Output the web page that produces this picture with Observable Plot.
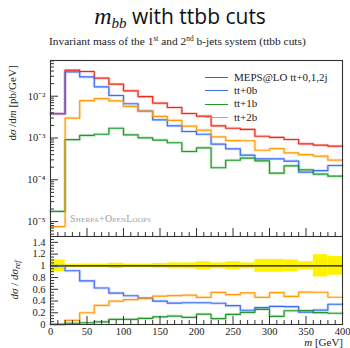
<!DOCTYPE html>
<html>
<head>
<meta charset="utf-8">
<script src="https://cdn.jsdelivr.net/npm/d3@7"></script>
<script src="https://cdn.jsdelivr.net/npm/@observablehq/plot@0.6"></script>
<style>
  body { margin: 0; background: #fff; }
  #chart { position: relative; width: 350px; height: 348px; overflow: hidden; font-family: "Liberation Serif", serif; color: #222; }
  #chart > div { position: absolute; }
  #title { left: 0; top: 6px; width: 360px; text-align: center; font: 21px/21px "Open Sans", sans-serif; white-space: nowrap; color: #111; }
  #title .m { font-family: "Liberation Serif", serif; font-style: italic; font-size: 24px; }
  #title sub { font-size: 15px; vertical-align: -4px; line-height: 0; }
  #subtitle { left: 49px; top: 35px; font-size: 11.4px; line-height: 12px; white-space: nowrap; }
  #subtitle sup { font-size: 7.5px; vertical-align: 4px; line-height: 0; }
  #main { left: 0; top: 52px; }
  #ratio { left: 0; top: 236px; }
  .vlab { font-size: 11px; white-space: nowrap; transform: rotate(-90deg); transform-origin: center center; text-align: center; }
  #ylab { left: -38px; top: 97px; width: 100px; }
  #rlab { left: -16px; top: 274px; width: 60px; }
  #ylab i, #rlab i, #xlab i { font-style: italic; }
  #rlab sub { font-size: 8px; vertical-align: -2px; line-height: 0; font-style: italic; }
  #xlab { right: 7px; top: 336px; font-size: 11px; white-space: nowrap; }
  #brand { left: 70px; top: 213px; font-size: 10px; font-variant: small-caps; color: #a0a0a0; letter-spacing: 0.2px; white-space: nowrap; }
  #legend { left: 205px; top: 71px; font-size: 11px; line-height: 13.2px; }
  #legend .row { display: flex; align-items: center; white-space: nowrap; }
  #legend .sw { display: inline-block; width: 23px; height: 0; border-top: 1.3px solid; margin-right: 6px; }
</style>
</head>
<body>
<div id="chart">
  <div id="title"><span class="m">m<sub>bb</sub></span> with ttbb cuts</div>
  <div id="subtitle">Invariant mass of the 1<sup>st</sup> and 2<sup>nd</sup> b-jets system (ttbb cuts)</div>
  <div id="main"></div>
  <div id="ratio"></div>
  <div id="ylab" class="vlab">d<i>σ</i> /d<i>m</i> [pb/GeV]</div>
  <div id="rlab" class="vlab"><i>dσ</i> / <i>dσ</i><sub>ref</sub></div>
  <div id="xlab"><i>m</i> [GeV]</div>
  <div id="brand">Sherpa+OpenLoops</div>
  <div id="legend"></div>
</div>
<script>
// Bin edges of the m_bb histogram [GeV]
const edges = [0, 20, 40, 60, 80, 100, 120, 140, 160, 180, 200, 220, 240, 260, 280, 300, 320, 340, 360, 380, 400];

// dσ/dm [pb/GeV] per bin
const mepsTotal = [3.8e-3, 0.0419, 0.039, 0.027, 0.0194, 0.01346, 0.0098, 0.0068, 0.00537, 0.00386,
                   0.00332, 0.00196, 0.00171, 0.00160, 0.00110, 0.00103, 0.00092, 0.000726, 0.000673, 0.000637];
const tt0b = [3.8e-3, 0.0384, 0.029, 0.0168, 0.0104, 0.0066, 0.0044, 0.00272, 0.00196, 0.00143,
              0.00123, 0.00071, 0.00055, 0.000388, 0.000318, 0.000318, 0.00028, 0.000152, 0.000165, 0.00022];
const tt1b = [1.75e-5, 0.00091, 0.00115, 0.00123, 0.00171, 0.00119, 0.00101, 0.00089, 0.00077, 0.000475,
              0.000583, 0.000194, 0.000294, 0.000329, 0.000285, 0.000144, 0.000216, 0.000173, 0.000136, 0.000122];
const tt2b = [7.6e-6, 0.00298, 0.0078, 0.0088, 0.0077, 0.0057, 0.0044, 0.0033, 0.00265, 0.00193,
              0.00154, 0.00107, 0.00087, 0.00086, 0.00051, 0.00056, 0.00044, 0.00040, 0.00037, 0.000296];

// Relative statistical uncertainty of the reference (MEPS@LO) per bin
const refRelErr = [0.1, 0.03, 0.03, 0.03, 0.045, 0.03, 0.03, 0.04, 0.05, 0.05,
                   0.07, 0.05, 0.07, 0.05, 0.11, 0.11, 0.1, 0.07, 0.19, 0.16];

const seriesNames = ["MEPS@LO tt+0,1,2j", "tt+0b", "tt+1b", "tt+2b"];
const seriesColors = ["#ee2a1b", "#3a6cf4", "#23992b", "#ff9a0a"];
const seriesValues = [mepsTotal, tt0b, tt1b, tt2b];
const ratioColors = ["#111111", "#3a6cf4", "#23992b", "#ff9a0a"];

const yMajor = [1e-5, 1e-4, 1e-3, 1e-2];
const ratioTicks = [0, 0.2, 0.4, 0.6, 0.8, 1, 1.2, 1.4];
const xTicks = [0, 50, 100, 150, 200, 250, 300, 350, 400];

const W = 350, ML = 50, MR = 8;
const panelW = W - ML - MR;
const mainH = 176, ratioH = 88;
const frameColor = "#333";
const font = {fontFamily: "Liberation Serif, serif", fontSize: "10.5px", color: "#222", background: "transparent"};

// Histogram outline as a polyline through the bin corners
function steps(vals, name) {
  const pts = [];
  vals.forEach((v, i) => {
    pts.push({x: edges[i], y: v, s: name});
    pts.push({x: edges[i + 1], y: v, s: name});
  });
  return pts;
}

const mainLines = seriesValues.map((v, k) => steps(v, seriesNames[k]));
const ratioLines = seriesValues.map((v, k) => steps(v.map((d, i) => d / mepsTotal[i]), seriesNames[k]));
const bandBins = refRelErr.map((e, i) => ({x1: edges[i], x2: edges[i + 1], lo: 1 - e, hi: 1 + e}));

// Minor/major tick positions
const logTicks = [];
for (let d = -6; d <= -1; d++) for (let k = 1; k <= 9; k++) {
  const v = k * Math.pow(10, d);
  if (v >= 4.4e-6 && v <= 0.0715) logTicks.push({v, major: k === 1});
}
const xMinor = d3.range(0, 401, 10).map(v => ({v, major: v % 50 === 0}));
const rMinor = d3.range(0, 1.5001, 0.05).map(v => ({v: +v.toFixed(2), major: Math.abs(v / 0.2 - Math.round(v / 0.2)) < 1e-6}));

const supMap = {"-": "\u207b", "0": "\u2070", "1": "\u00b9", "2": "\u00b2", "3": "\u00b3", "4": "\u2074", "5": "\u2075", "6": "\u2076", "7": "\u2077", "8": "\u2078", "9": "\u2079"};
const powFormat = v => "10" + String(Math.round(Math.log10(v))).split("").map(c => supMap[c]).join("");

const main = Plot.plot({
  width: W, height: mainH + 8, marginTop: 8, marginBottom: 0, marginLeft: ML, marginRight: MR,
  style: font,
  x: {domain: [0, 400], axis: null},
  y: {type: "log", domain: [4.4e-6, 0.0715], axis: null},
  marks: [
    ...mainLines.map((d, k) => Plot.line(d, {x: "x", y: "y", stroke: seriesColors[k], strokeWidth: 3, strokeOpacity: 0.22})),
    ...mainLines.map((d, k) => Plot.line(d, {x: "x", y: "y", stroke: seriesColors[k], strokeWidth: 1.2})),
    Plot.tickY(logTicks, {y: "v", stroke: frameColor, insetRight: panelW - 8, filter: d => d.major}),
    Plot.tickY(logTicks, {y: "v", stroke: frameColor, insetRight: panelW - 4, filter: d => !d.major}),
    Plot.tickX(xMinor, {x: "v", stroke: frameColor, insetTop: mainH - 8, filter: d => d.major}),
    Plot.tickX(xMinor, {x: "v", stroke: frameColor, insetTop: mainH - 4, filter: d => !d.major}),
    Plot.axisY({ticks: yMajor, tickSize: 0, tickPadding: 5, tickFormat: powFormat, label: null}),
    Plot.frame({stroke: frameColor, strokeWidth: 1.1})
  ]
});
document.getElementById("main").appendChild(main);

const ratio = Plot.plot({
  width: W, height: ratioH + 24, marginTop: 0, marginBottom: 24, marginLeft: ML, marginRight: MR,
  style: font,
  x: {domain: [0, 400], axis: null},
  y: {domain: [0, 1.5], axis: null},
  marks: [
    Plot.rectY(bandBins, {x1: "x1", x2: "x2", y1: "lo", y2: "hi", fill: "#fff200"}),
    ...ratioLines.map((d, k) => k === 0 ? null : Plot.line(d, {x: "x", y: "y", stroke: ratioColors[k], strokeWidth: 3, strokeOpacity: 0.22})),
    ...ratioLines.map((d, k) => Plot.line(d, {x: "x", y: "y", stroke: ratioColors[k], strokeWidth: k === 0 ? 1.3 : 1.2})),
    Plot.tickY(rMinor, {y: "v", stroke: frameColor, insetRight: panelW - 8, filter: d => d.major}),
    Plot.tickY(rMinor, {y: "v", stroke: frameColor, insetRight: panelW - 4, filter: d => !d.major}),
    Plot.tickX(xMinor, {x: "v", stroke: frameColor, insetTop: ratioH - 8, filter: d => d.major}),
    Plot.tickX(xMinor, {x: "v", stroke: frameColor, insetTop: ratioH - 4, filter: d => !d.major}),
    Plot.axisY({ticks: ratioTicks, tickSize: 0, tickPadding: 5, tickFormat: d => String(d), label: null}),
    Plot.axisX({ticks: xTicks, tickSize: 0, tickPadding: 3, tickFormat: d => String(d), label: null}),
    Plot.frame({stroke: frameColor, strokeWidth: 1.1})
  ].filter(Boolean)
});
document.getElementById("ratio").appendChild(ratio);

// Legend
const legend = document.getElementById("legend");
seriesNames.forEach((name, k) => {
  const row = document.createElement("div");
  row.className = "row";
  const sw = document.createElement("span");
  sw.className = "sw";
  sw.style.borderTopColor = seriesColors[k];
  row.appendChild(sw);
  row.appendChild(document.createTextNode(name));
  legend.appendChild(row);
});
</script>
</body>
</html>
